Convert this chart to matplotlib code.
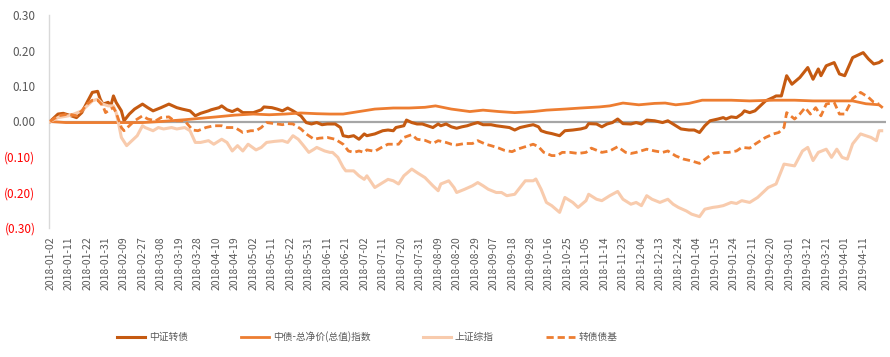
import matplotlib
matplotlib.use("Agg")
import matplotlib.pyplot as plt

plt.rcParams['font.family'] = ['Noto Sans CJK SC', 'DejaVu Sans']

tick_labels = ["2018-01-02", "2018-01-11", "2018-01-22", "2018-01-31", "2018-02-09", "2018-02-27",
               "2018-03-08", "2018-03-19", "2018-03-28", "2018-04-10", "2018-04-19", "2018-05-02",
               "2018-05-11", "2018-05-22", "2018-05-31", "2018-06-11", "2018-06-21", "2018-07-02",
               "2018-07-11", "2018-07-20", "2018-07-31", "2018-08-09", "2018-08-20", "2018-08-29",
               "2018-09-07", "2018-09-18", "2018-09-28", "2018-10-16", "2018-10-25", "2018-11-05",
               "2018-11-14", "2018-11-23", "2018-12-04", "2018-12-13", "2018-12-24", "2019-01-04",
               "2019-01-15", "2019-01-24", "2019-02-11", "2019-02-20", "2019-03-01", "2019-03-12",
               "2019-03-21", "2019-04-01", "2019-04-11"]
tick_step = 7  # trading days between labels
n_days = 316

series_names = ["中证转债", "中债-总净价(总值)指数", "上证综指", "转债债基"]

# 中证转债 (trading-day index, value)
cb_idx = [0, 3, 5, 8, 10, 12, 14, 16, 18, 19, 20, 22, 23, 24, 25, 27, 28, 30, 32, 35, 37, 39, 42, 45, 48, 50,
          53, 55, 57, 60, 61, 64, 65, 67, 69, 71, 73, 75, 77, 80, 81, 84, 86, 88, 90, 92, 95, 97, 99, 101, 103,
          105, 108, 110, 111, 113, 115, 117, 119, 120, 123, 126, 128, 130, 131, 134, 135, 137, 139, 141, 143,
          145, 147, 148, 150, 152, 154, 156, 158, 160, 162, 164, 167, 169, 172, 174, 176, 178, 181, 183, 185,
          186, 188, 190, 193, 195, 198, 201, 203, 204, 207, 209, 211, 213, 215, 217, 220, 222, 224, 226, 229,
          232, 234, 237, 239, 242, 244, 246, 248, 250, 253, 255, 256, 258, 260, 262, 263, 265, 267, 271, 274,
          275, 277, 279, 281, 284, 287, 289, 291, 292, 294, 297, 299, 301, 304, 308, 310, 312, 314, 315]
cb_val = [0.000, 0.021, 0.023, 0.016, 0.011, 0.025, 0.054, 0.082, 0.085, 0.063, 0.049, 0.054, 0.044, 0.072,
          0.054, 0.030, 0.002, 0.021, 0.035, 0.049, 0.039, 0.030, 0.039, 0.049, 0.039, 0.035,
          0.030, 0.016, 0.023, 0.030, 0.033, 0.039, 0.044, 0.033, 0.028, 0.035, 0.025, 0.025, 0.025, 0.033,
          0.041, 0.039, 0.035, 0.030, 0.038, 0.030, 0.016, -0.003, -0.007, -0.003, -0.009,
          -0.007, -0.007, -0.017, -0.040, -0.043, -0.040, -0.050, -0.035, -0.040, -0.035, -0.026, -0.024,
          -0.026, -0.017, -0.012, 0.004, -0.003, -0.007, -0.007, -0.012,
          -0.017, -0.007, -0.012, -0.007, -0.015, -0.019, -0.015, -0.012, -0.007, -0.003, -0.009, -0.009,
          -0.012, -0.015, -0.017, -0.024, -0.017, -0.012, -0.009, -0.015,
          -0.026, -0.031, -0.034, -0.040, -0.026, -0.024, -0.021, -0.017, -0.006, -0.007, -0.015, -0.007,
          -0.003, 0.007, -0.006, -0.007, -0.003, -0.007, 0.004, 0.002,
          -0.003, 0.002, -0.012, -0.021, -0.024, -0.024, -0.031, -0.012, 0.002, 0.007, 0.011, 0.007, 0.013,
          0.011, 0.021, 0.030, 0.025, 0.030, 0.058, 0.068,
          0.072, 0.072, 0.129, 0.105, 0.124, 0.152, 0.119, 0.148, 0.129, 0.157, 0.166, 0.134, 0.129, 0.180,
          0.194, 0.176, 0.162, 0.166, 0.171]

# 中债-总净价(总值)指数
bond_idx = [0, 6, 20, 35, 42, 51, 63, 70, 77, 83, 89, 95, 101, 106, 111, 117, 123, 130, 136, 142, 146, 152,
            159, 164, 170, 176, 183, 188, 195, 201, 208, 212, 217, 223, 229, 233, 237, 242, 247, 252, 258,
            265, 274, 282, 289, 295, 304, 309, 314, 315]
bond_val = [0.000, -0.003, -0.003, -0.003, 0.000, 0.005, 0.013, 0.018, 0.021, 0.019, 0.021, 0.024, 0.022,
            0.021, 0.021, 0.028, 0.035, 0.038, 0.038, 0.040, 0.044, 0.035,
            0.028, 0.032, 0.028, 0.025, 0.028, 0.032, 0.035, 0.038, 0.041, 0.044, 0.052, 0.047, 0.051,
            0.052, 0.047, 0.051, 0.060, 0.060, 0.060,
            0.058, 0.060, 0.060, 0.058, 0.058, 0.058, 0.050, 0.047, 0.041]

# 上证综指
sh_idx = [0, 3, 7, 9, 12, 14, 16, 18, 20, 22, 24, 25, 26, 27, 29, 31, 33, 35, 36, 39, 41, 43, 46, 48, 51,
          53, 55, 57, 60, 62, 65, 67, 69, 71, 73, 75, 78, 80, 82, 85, 88, 90, 92, 94, 96, 98, 100, 101, 104,
          106, 107, 109, 111, 112, 115, 117, 119, 120, 123, 126, 128, 130, 132, 134, 137, 139, 142, 145, 147,
          148, 151, 153, 154, 157, 160, 162, 164, 166, 169, 171, 173, 176, 178, 180, 183, 184, 186, 188, 190,
          193, 195, 198, 200, 203, 204, 207, 209, 212, 213, 215, 217, 220, 222, 224, 226, 228, 231, 234, 236,
          238, 241, 243, 246, 248, 251, 253, 255, 258, 260, 262, 265, 268, 272, 275, 278, 282, 285, 287, 289,
          291, 294, 296, 298, 300, 302, 304, 307, 311, 313, 314, 315]
sh_val = [0.000, 0.011, 0.016, 0.021, 0.030, 0.044, 0.058, 0.063, 0.049, 0.044, 0.044, 0.025, -0.008,
          -0.045, -0.068, -0.054, -0.040, -0.012, -0.017, -0.026, -0.017, -0.021, -0.017, -0.021, -0.017,
          -0.026, -0.059, -0.059, -0.054, -0.064, -0.050, -0.059, -0.083, -0.068, -0.083, -0.064, -0.080,
          -0.073, -0.059, -0.056, -0.054, -0.059, -0.040, -0.050, -0.068, -0.087, -0.078, -0.073, -0.083,
          -0.087, -0.087, -0.101, -0.129, -0.139, -0.139, -0.153, -0.163, -0.153, -0.186, -0.172, -0.163,
          -0.167, -0.176, -0.153, -0.134, -0.144, -0.158, -0.181, -0.195,
          -0.176, -0.167, -0.186, -0.200, -0.191, -0.181, -0.172, -0.181, -0.191, -0.200, -0.200, -0.209,
          -0.205, -0.186, -0.167, -0.167, -0.162, -0.191, -0.228, -0.237,
          -0.256, -0.214, -0.228, -0.242, -0.223, -0.205, -0.219, -0.223, -0.209, -0.205, -0.197, -0.219,
          -0.233, -0.228, -0.237, -0.209, -0.219, -0.228, -0.219, -0.233,
          -0.242, -0.252, -0.261, -0.268, -0.247, -0.242, -0.240, -0.237, -0.228, -0.231, -0.223, -0.228,
          -0.214, -0.186, -0.176, -0.120, -0.125, -0.083, -0.073, -0.110,
          -0.087, -0.078, -0.101, -0.078, -0.101, -0.106, -0.063, -0.035, -0.045, -0.054, -0.026, -0.026]

# 转债债基
fund_idx = [0, 3, 7, 10, 12, 14, 16, 18, 20, 21, 23, 24, 25, 27, 28, 30, 32, 35, 37, 40, 42, 45, 47, 51,
            54, 56, 59, 62, 65, 67, 70, 72, 73, 76, 78, 80, 82, 85, 88, 90, 92, 95, 97, 100, 102, 105, 108,
            111, 113, 115, 117, 119, 120, 123, 126, 128, 132, 134, 137, 139, 142, 145, 147, 150, 152, 154,
            157, 160, 162, 165, 167, 170, 172, 175, 177, 180, 183, 185, 187, 190, 192, 194, 197, 200, 203,
            205, 207, 209, 212, 215, 218, 220, 222, 226, 229, 232, 234, 237, 240, 243, 246, 249, 251, 254,
            257, 260, 262, 265, 267, 271, 274, 276, 278, 279, 282, 284, 286, 288, 290, 292, 294, 297, 299,
            301, 304, 307, 310, 312, 314]
fund_val = [0.000, 0.016, 0.021, 0.016, 0.030, 0.049, 0.060, 0.060, 0.044, 0.025, 0.035, 0.039, 0.025,
            -0.017, -0.026, -0.012, 0.002, 0.016, 0.007, 0.002, 0.011, 0.013, 0.002, 0.002,
            -0.024, -0.026, -0.017, -0.012, -0.012, -0.017, -0.017, -0.026, -0.031, -0.026, -0.026, -0.017,
            -0.003, -0.006, -0.009, -0.006, -0.007, -0.021, -0.035, -0.050, -0.047, -0.045, -0.050,
            -0.064, -0.083, -0.087, -0.083, -0.087, -0.080, -0.084, -0.071, -0.064, -0.064, -0.045, -0.037,
            -0.050, -0.053, -0.062, -0.054, -0.059, -0.064, -0.066,
            -0.062, -0.062, -0.054, -0.064, -0.068, -0.075, -0.081, -0.085, -0.078, -0.071, -0.064, -0.071,
            -0.087, -0.096, -0.096, -0.087, -0.087, -0.090, -0.087,
            -0.075, -0.081, -0.087, -0.083, -0.071, -0.087, -0.090, -0.087, -0.078, -0.083, -0.087, -0.083,
            -0.097, -0.106, -0.111, -0.118, -0.101, -0.090, -0.087,
            -0.087, -0.083, -0.073, -0.075, -0.064, -0.045, -0.035, -0.031, -0.017, 0.025, 0.007, 0.021,
            0.039, 0.021, 0.039, 0.016, 0.049, 0.054, 0.021,
            0.021, 0.064, 0.082, 0.068, 0.054, 0.049]

y_ticks = [-0.3, -0.2, -0.1, 0.0, 0.1, 0.2, 0.3]

fig = plt.figure(figsize=(8.9, 3.57), dpi=100)
ax = fig.add_axes([0.0554, 1 - 228 / 357, 0.9397, 213 / 357])

ax.axhline(0, color="#A6A6A6", lw=1.6, zorder=1)

l1, = ax.plot(cb_idx, cb_val, color="#C55A11", lw=2.2, zorder=3, solid_joinstyle="round")
l2, = ax.plot(bond_idx, bond_val, color="#ED7D31", lw=2.0, zorder=4, solid_joinstyle="round")
l3, = ax.plot(sh_idx, sh_val, color="#F8CBAD", lw=2.2, zorder=5, solid_joinstyle="round")
l4, = ax.plot(fund_idx, fund_val, color="#ED7D31", lw=2.0, zorder=6, linestyle=(0, (2.6, 1.4)))

ax.set_xlim(-0.3, n_days + 0.5)
ax.set_ylim(-0.3, 0.3)

ax.set_xticks([k * tick_step for k in range(len(tick_labels))])
ax.set_xticklabels(tick_labels, rotation=90, fontsize=7.5, color="#595959")
ax.set_yticks(y_ticks)
ylabels = []
for v in y_ticks:
    if v < 0:
        ylabels.append("(%.2f)" % abs(v))
    else:
        ylabels.append("%.2f" % v)
ax.set_yticklabels(ylabels, fontsize=8.5)
for lab, v in zip(ax.get_yticklabels(), y_ticks):
    lab.set_color("#FF0000" if v < 0 else "#595959")

ax.tick_params(axis="both", length=0)
ax.tick_params(axis="y", pad=10)
ax.tick_params(axis="x", pad=6)

for s in ["top", "right", "bottom"]:
    ax.spines[s].set_visible(False)
ax.spines["left"].set_color("#D9D9D9")
ax.spines["left"].set_linewidth(1.0)

fig.legend([l1, l2, l3, l4], series_names, loc="center left", bbox_to_anchor=(117 / 890, 1 - 337 / 357),
           ncol=4, frameon=False, fontsize=7, handlelength=2.9, handletextpad=0.4,
           columnspacing=5.4, borderpad=0, borderaxespad=0, labelcolor="#595959")

fig.savefig("out.png", dpi=100)
